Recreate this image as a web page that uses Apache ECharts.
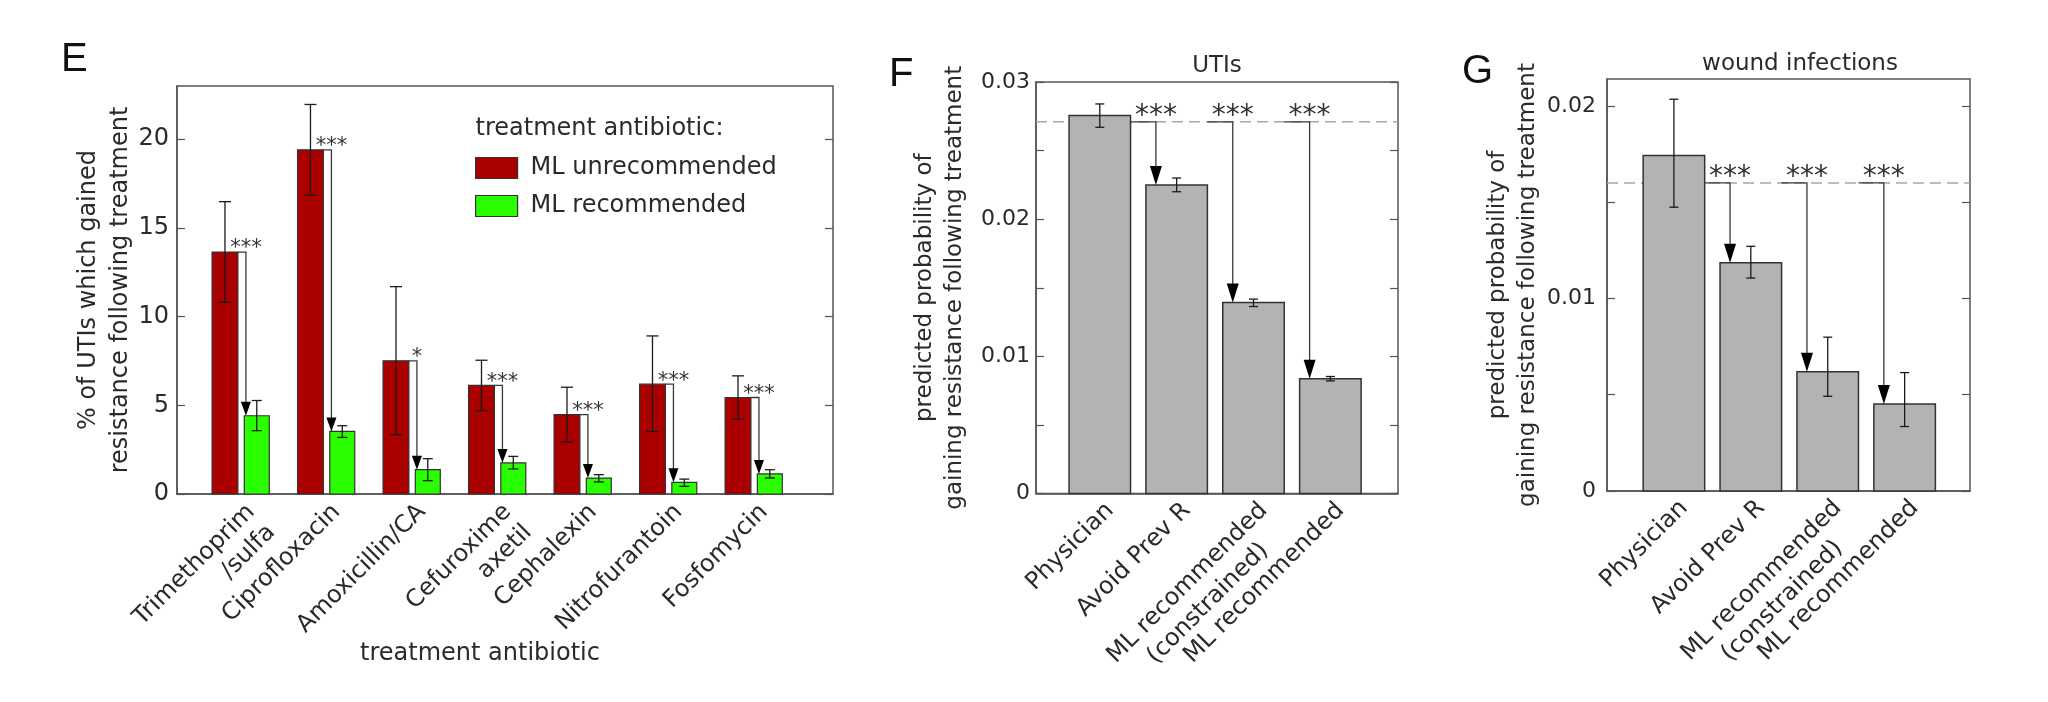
<!DOCTYPE html>
<html><head><meta charset="utf-8">
<script src="https://cdn.jsdelivr.net/npm/echarts@6/dist/echarts.min.js"></script>
<style>html,body{margin:0;padding:0;background:#fff}#c{width:2048px;height:702px}</style>
</head><body><div id="c"></div><script>
// ---------- data ----------
const categoriesE = ['Trimethoprim\n/sulfa','Ciprofloxacin','Amoxicillin/CA','Cefuroxime\naxetil','Cephalexin','Nitrofurantoin','Fosfomycin'];
const unrecommended = [13.64, 19.4, 7.51, 6.12, 4.47, 6.19, 5.44];
const unrecLow      = [10.81, 16.85, 3.34, 4.69, 2.93, 3.53, 4.22];
const unrecHigh     = [16.48, 21.96, 11.69, 7.54, 6.02, 8.91, 6.66];
const recommended   = [4.41, 3.53, 1.37, 1.75, 0.90, 0.66, 1.13];
const recLow        = [3.57, 3.19, 0.75, 1.41, 0.68, 0.43, 0.90];
const recHigh       = [5.27, 3.85, 1.99, 2.12, 1.09, 0.84, 1.37];
const sigE          = ['***','***','*','***','***','***','***'];
const yTicksE       = [0, 5, 10, 15, 20];

const strategies  = ['Physician','Avoid Prev R','ML recommended\n(constrained)','ML recommended'];
const utiValues   = [0.02755, 0.0225, 0.01393, 0.00836];
const utiLow      = [0.0267, 0.0220, 0.01363, 0.00821];
const utiHigh     = [0.0284, 0.0230, 0.01417, 0.00853];
const utiRef      = [0.0271];
const sigF        = ['***','***','***'];
const yLabelsF    = [0, 0.01, 0.02, 0.03];
const yTicksF     = [0, 0.005, 0.01, 0.015, 0.02, 0.025, 0.03];

const woundValues = [0.01743, 0.01186, 0.0062, 0.00452];
const woundLow    = [0.01474, 0.01106, 0.00492, 0.00335];
const woundHigh   = [0.02035, 0.01271, 0.00799, 0.00615];
const woundRef    = [0.016];
const sigG        = ['***','***','***'];
const yLabelsG    = [0, 0.01, 0.02];
const yTicksG     = [0, 0.005, 0.01, 0.015, 0.02];

// ---------- style ----------
const FONT = 'DejaVu Sans';
const TXT = '#2a2a2a';
const AX = '#555';
const RED = '#aa0000', GREEN = '#2aff00', GRAY = '#b3b3b3';

function barRender(offset, width, fill, lw) {
  return function (params, api) {
    const x = api.value(0) + offset, v = api.value(1);
    const p0 = api.coord([x - width / 2, v]);
    const p1 = api.coord([x + width / 2, 0]);
    return {type: 'rect', shape: {x: p0[0], y: p0[1], width: p1[0] - p0[0], height: p1[1] - p0[1]},
      style: {fill: fill, stroke: '#333', lineWidth: lw}};
  };
}
function errRender(offset, cap) {
  return function (params, api) {
    const x = api.value(0) + offset;
    const lo = api.coord([x, api.value(1)]), hi = api.coord([x, api.value(2)]);
    const st = {stroke: '#1a1a1a', lineWidth: 1.3};
    return {type: 'group', children: [
      {type: 'line', shape: {x1: lo[0], y1: lo[1], x2: hi[0], y2: hi[1]}, style: st},
      {type: 'line', shape: {x1: lo[0] - cap / 2, y1: lo[1], x2: lo[0] + cap / 2, y2: lo[1]}, style: st},
      {type: 'line', shape: {x1: hi[0] - cap / 2, y1: hi[1], x2: hi[0] + cap / 2, y2: hi[1]}, style: st}
    ]};
  };
}
function arrowShape(pStart, pCorner, tipY, hw, hh, star, starFont, starDy) {
  return {type: 'group', children: [
    {type: 'polyline', shape: {points: [pStart, pCorner, [pCorner[0], tipY - hh + 1]]},
      style: {stroke: '#3a3a3a', lineWidth: 1.3, fill: null}},
    {type: 'polygon', shape: {points: [[pCorner[0] - hw / 2, tipY - hh], [pCorner[0] + hw / 2, tipY - hh], [pCorner[0], tipY]]},
      style: {fill: '#000'}},
    {type: 'text', x: pCorner[0], y: pCorner[1] - starDy,
      style: {text: star, font: starFont + 'px "' + FONT + '"', fill: '#333', align: 'center', verticalAlign: 'middle'}}
  ]};
}
function arrowRenderE(params, api) {
  const i = api.value(0);
  const pS = api.coord([i - 0.035, api.value(1)]);
  const pC = api.coord([i + 0.06, api.value(1)]);
  const tip = api.coord([i + 0.06, api.value(2)]);
  return arrowShape(pS, pC, tip[1], 10, 14, sigE[params.dataIndex], 21, 3);
}
function arrowRenderFG(sig) {
  return function (params, api) {
    const i = api.value(0);
    const pS = api.coord([i - 0.6, api.value(2)]);
    const pC = api.coord([i - 0.27, api.value(2)]);
    const tip = api.coord([i - 0.27, api.value(1)]);
    return arrowShape(pS, pC, tip[1], 12, 19, sig[params.dataIndex], 28, 5);
  };
}
function refRender(params, api) {
  const y = api.coord([1, api.value(0)])[1];
  const cs = params.coordSys;
  return {type: 'line', shape: {x1: cs.x, y1: y, x2: cs.x + cs.width, y2: y},
    style: {stroke: '#a8a8a8', lineWidth: 1.5, lineDash: [11, 6]}};
}

function base(extra) { return Object.assign({type: 'custom', silent: true, animation: false, clip: false}, extra); }

function yLeft(gi, max, labels, ticks, fmt, name, gap, fs, nfs, lh, margin) {
  return {gridIndex: gi, type: 'value', min: 0, max: max, position: 'left',
    axisLine: {show: true, lineStyle: {color: AX, width: 1.5}},
    axisTick: {show: true, inside: true, length: 8, customValues: ticks, lineStyle: {color: AX, width: 1.2}},
    axisLabel: {customValues: labels, margin: margin, fontSize: fs, fontFamily: FONT, color: TXT, formatter: fmt, showMinLabel: true, showMaxLabel: true},
    splitLine: {show: false},
    name: name, nameLocation: 'middle', nameRotate: 90, nameGap: gap, nameMoveOverlap: false,
    nameTextStyle: {fontSize: nfs, fontFamily: FONT, color: TXT, lineHeight: lh, align: 'center'}};
}
function yRight(gi, max, ticks) {
  return {gridIndex: gi, type: 'value', min: 0, max: max, position: 'right',
    axisLine: {show: false}, axisLabel: {show: false}, splitLine: {show: false},
    axisTick: {show: true, inside: true, length: 8, customValues: ticks, lineStyle: {color: AX, width: 1.2}}};
}
const fmtF = v => (Math.abs(v) < 1e-9 ? '0' : v.toFixed(2));
const catIdx = v => Math.round(v) - 1;
const richLabel = v => strategies[catIdx(v)].split('\n').map(s => '{c|' + s + '}').join('\n');
function xFG(gi, min, max) {
  return {gridIndex: gi, type: 'value', min: min, max: max,
    axisLine: {show: true, lineStyle: {color: AX, width: 1.5}},
    axisTick: {show: true, inside: true, length: 8, customValues: [1, 2, 3, 4], lineStyle: {color: AX, width: 1.2}},
    axisLabel: {customValues: [1, 2, 3, 4], rotate: 45, margin: 3, align: 'right', verticalAlign: 'top',
      fontSize: 24, fontFamily: FONT, color: TXT,
      formatter: richLabel, rich: {c: {align: 'center', fontSize: 24, fontFamily: FONT, color: TXT, lineHeight: 29}}},
    splitLine: {show: false}};
}

const idx = a => a.map((v, i) => [i + 1, v]);
const gridStyle = {show: true, borderColor: AX, borderWidth: 1.5, backgroundColor: 'transparent'};

const option = {
  backgroundColor: '#fff',
  animation: false,
  grid: [
    Object.assign({left: 177, top: 86, width: 656, height: 408}, gridStyle),
    Object.assign({left: 1036, top: 82, width: 362, height: 411.5}, gridStyle),
    Object.assign({left: 1607, top: 79, width: 363, height: 412}, gridStyle)
  ],
  xAxis: [
    {gridIndex: 0, type: 'value', min: 0.254, max: 7.926,
      axisLine: {show: true, lineStyle: {color: AX, width: 1.5}}, axisTick: {show: false}, splitLine: {show: false},
      axisLabel: {customValues: [1, 2, 3, 4, 5, 6, 7], rotate: 45, margin: 4, align: 'right', verticalAlign: 'top',
        fontSize: 24, fontFamily: FONT, color: TXT, lineHeight: 29,
        formatter: v => categoriesE[catIdx(v)]},
      name: 'treatment antibiotic', nameLocation: 'middle', nameGap: 148, nameMoveOverlap: false,
      nameTextStyle: {fontSize: 24, fontFamily: FONT, color: TXT, padding: [0, 50, 0, 0]}},
    xFG(1, 0.17, 4.88),
    xFG(2, 0.13, 4.85)
  ],
  yAxis: [
    yLeft(0, 23, yTicksE, yTicksE, v => String(v), '% of UTIs which gained\nresistance following treatment', 40, 24, 24, 32, 8),
    yRight(0, 23, yTicksE),
    yLeft(1, 0.03, yLabelsF, yTicksF, fmtF, 'predicted probability of\ngaining resistance following treatment', 66, 22, 23, 30, 6),
    yRight(1, 0.03, yTicksF),
    yLeft(2, 0.0214, yLabelsG, yTicksG, fmtF, 'predicted probability of\ngaining resistance following treatment', 64, 22, 23, 30, 11),
    yRight(2, 0.0214, yTicksG)
  ],
  legend: {
    orient: 'vertical', left: 475, top: 156, padding: 0, itemGap: 14, itemWidth: 42, itemHeight: 21,
    icon: 'rect', selectedMode: false,
    textStyle: {fontSize: 24, fontFamily: FONT, color: TXT, padding: [0, 0, 0, 8]},
    data: [
      {name: 'ML unrecommended', itemStyle: {color: RED, borderColor: '#333', borderWidth: 1.2}},
      {name: 'ML recommended', itemStyle: {color: GREEN, borderColor: '#333', borderWidth: 1.2}}
    ]
  },
  graphic: [
    {type: 'text', x: 61, y: 60, style: {text: 'E', font: '40px "Liberation Sans"', fill: '#111', verticalAlign: 'middle'}},
    {type: 'text', x: 889, y: 75, style: {text: 'F', font: '40px "Liberation Sans"', fill: '#111', verticalAlign: 'middle'}},
    {type: 'text', x: 1462, y: 72, style: {text: 'G', font: '40px "Liberation Sans"', fill: '#111', verticalAlign: 'middle'}},
    {type: 'text', x: 475.5, y: 129, style: {text: 'treatment antibiotic:', font: '24px "' + FONT + '"', fill: TXT, verticalAlign: 'middle'}},
    {type: 'text', x: 1217, y: 66, style: {text: 'UTIs', font: '23px "' + FONT + '"', fill: TXT, align: 'center', verticalAlign: 'middle'}},
    {type: 'text', x: 1800, y: 64, style: {text: 'wound infections', font: '23px "' + FONT + '"', fill: TXT, align: 'center', verticalAlign: 'middle'}}
  ],
  series: [
    // Panel E
    base({name: 'ML unrecommended', xAxisIndex: 0, yAxisIndex: 0, z: 3, itemStyle: {color: RED},
      data: idx(unrecommended), renderItem: barRender(-0.185, 0.302, RED, 1.2)}),
    base({name: 'ML recommended', xAxisIndex: 0, yAxisIndex: 0, z: 3, itemStyle: {color: GREEN},
      data: idx(recommended), renderItem: barRender(0.187, 0.292, GREEN, 1.2)}),
    base({xAxisIndex: 0, yAxisIndex: 0, z: 4, data: unrecommended.map((v, i) => [i + 1, unrecLow[i], unrecHigh[i]]), renderItem: errRender(-0.185, 12)}),
    base({xAxisIndex: 0, yAxisIndex: 0, z: 4, data: recommended.map((v, i) => [i + 1, recLow[i], recHigh[i]]), renderItem: errRender(0.187, 10)}),
    base({xAxisIndex: 0, yAxisIndex: 0, z: 5, data: unrecommended.map((v, i) => [i + 1, v, recommended[i]]), renderItem: arrowRenderE}),
    // Panel F
    base({xAxisIndex: 1, yAxisIndex: 2, z: 2, data: [utiRef], renderItem: refRender}),
    base({xAxisIndex: 1, yAxisIndex: 2, z: 3, data: idx(utiValues), renderItem: barRender(0, 0.8, GRAY, 1.5)}),
    base({xAxisIndex: 1, yAxisIndex: 2, z: 4, data: utiValues.map((v, i) => [i + 1, utiLow[i], utiHigh[i]]), renderItem: errRender(0, 9)}),
    base({xAxisIndex: 1, yAxisIndex: 2, z: 5, data: utiValues.slice(1).map((v, i) => [i + 2, v, utiRef[0]]), renderItem: arrowRenderFG(sigF)}),
    // Panel G
    base({xAxisIndex: 2, yAxisIndex: 4, z: 2, data: [woundRef], renderItem: refRender}),
    base({xAxisIndex: 2, yAxisIndex: 4, z: 3, data: idx(woundValues), renderItem: barRender(0, 0.8, GRAY, 1.5)}),
    base({xAxisIndex: 2, yAxisIndex: 4, z: 4, data: woundValues.map((v, i) => [i + 1, woundLow[i], woundHigh[i]]), renderItem: errRender(0, 9)}),
    base({xAxisIndex: 2, yAxisIndex: 4, z: 5, data: woundValues.slice(1).map((v, i) => [i + 2, v, woundRef[0]]), renderItem: arrowRenderFG(sigG)})
  ]
};
const chart = echarts.init(document.getElementById('c'), null, {renderer: 'canvas'});
chart.setOption(option);
</script></body></html>
